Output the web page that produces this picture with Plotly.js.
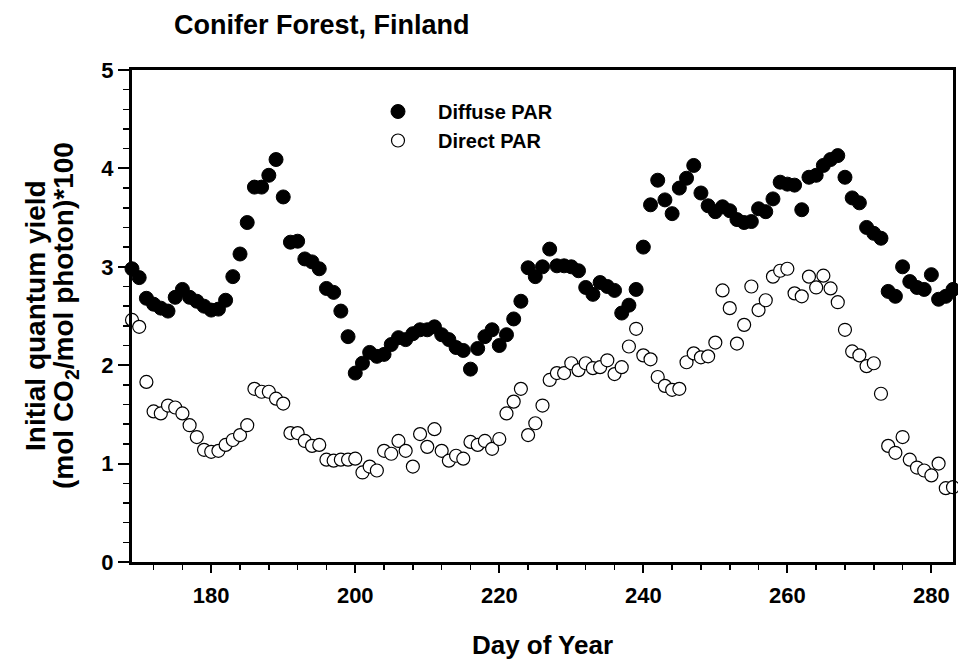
<!DOCTYPE html>
<html>
<head>
<meta charset="utf-8">
<script src="https://cdn.plot.ly/plotly-3.0.1.min.js"></script>
<style>html,body{margin:0;padding:0;background:#fff;}#chart{width:958px;height:663px;}</style>
</head>
<body>
<div id="chart"></div>
<script>
// Day of year (one observation per day)
const days = [169,170,171,172,173,174,175,176,177,178,179,180,181,182,183,184,185,186,187,188,189,190,
  191,192,193,194,195,196,197,198,199,200,201,202,203,204,205,206,207,208,209,210,211,212,213,214,215,
  216,217,218,219,220,221,222,223,224,225,226,227,228,229,230,231,232,233,234,235,236,237,238,239,240,
  241,242,243,244,245,246,247,248,249,250,251,252,253,254,255,256,257,258,259,260,261,262,263,264,265,
  266,267,268,269,270,271,272,273,274,275,276,277,278,279,280,281,282,283];

// Initial quantum yield under diffuse PAR (filled circles)
const diffusePAR = [2.98,2.89,2.68,2.62,2.58,2.55,2.69,2.77,2.69,2.65,2.60,2.56,2.57,2.66,2.90,3.13,3.45,3.81,3.81,3.93,4.09,3.71,
  3.25,3.26,3.08,3.05,2.98,2.78,2.74,2.55,2.29,1.92,2.02,2.13,2.09,2.11,2.21,2.28,2.26,2.32,2.36,2.36,2.39,2.31,2.26,2.18,2.15,
  1.96,2.17,2.29,2.36,2.20,2.31,2.47,2.65,2.99,2.90,3.00,3.18,3.01,3.01,3.00,2.96,2.79,2.72,2.84,2.80,2.76,2.53,2.61,2.77,3.20,
  3.63,3.88,3.68,3.54,3.80,3.90,4.03,3.75,3.62,3.56,3.61,3.57,3.48,3.45,3.46,3.59,3.56,3.69,3.86,3.84,3.83,3.58,3.91,3.93,4.03,
  4.09,4.13,3.91,3.70,3.65,3.40,3.34,3.29,2.75,2.70,3.00,2.85,2.79,2.77,2.92,2.67,2.70,2.77];

// Initial quantum yield under direct PAR (open circles)
const directPAR = [2.46,2.39,1.83,1.53,1.51,1.59,1.57,1.51,1.39,1.27,1.14,1.12,1.13,1.19,1.24,1.29,1.39,1.76,1.73,1.73,1.66,1.61,
  1.31,1.31,1.23,1.18,1.19,1.04,1.03,1.04,1.04,1.05,0.91,0.97,0.93,1.13,1.10,1.23,1.13,0.97,1.30,1.17,1.35,1.13,1.03,1.08,1.05,
  1.22,1.19,1.23,1.15,1.25,1.51,1.63,1.76,1.29,1.41,1.59,1.85,1.92,1.92,2.02,1.95,2.02,1.97,1.98,2.05,1.91,1.98,2.19,2.37,2.10,
  2.06,1.88,1.79,1.75,1.76,2.03,2.12,2.08,2.09,2.23,2.76,2.58,2.22,2.41,2.80,2.56,2.66,2.90,2.96,2.98,2.73,2.70,2.90,2.79,2.91,
  2.78,2.64,2.36,2.14,2.10,1.99,2.02,1.71,1.18,1.11,1.27,1.04,0.96,0.93,0.88,1.00,0.75,0.76];

const seriesNames = ['Diffuse PAR', 'Direct PAR'];
const chartTitle = 'Conifer Forest, Finland';
const xTitle = 'Day of Year';
const yTitleLines = ['Initial quantum yield', '(mol CO<sub>2</sub>/mol photon)*100'];

const FONT = 'Liberation Sans, Arial, Helvetica, sans-serif';

const traces = [
  {
    x: days, y: diffusePAR, name: seriesNames[0], type: 'scatter', mode: 'markers', cliponaxis: false,
    marker: {symbol: 'circle', size: 14, color: '#000000', line: {color: '#000000', width: 1}}
  },
  {
    x: days, y: directPAR, name: seriesNames[1], type: 'scatter', mode: 'markers', cliponaxis: false,
    marker: {symbol: 'circle', size: 13, color: '#ffffff', line: {color: '#000000', width: 1.2}}
  }
];

const layout = {
  width: 958, height: 663,
  paper_bgcolor: '#ffffff', plot_bgcolor: '#ffffff',
  margin: {l: 132, r: 5, t: 70, b: 101, pad: 0},
  font: {family: FONT, color: '#000000'},
  showlegend: true,
  title: {
    text: chartTitle, font: {family: FONT, size: 27, weight: 'bold', color: '#000'},
    xref: 'container', yref: 'container', x: 174/958, xanchor: 'left', y: 1 - 25/663, yanchor: 'middle'
  },
  xaxis: {
    range: [169, 283], tick0: 0, dtick: 20, ticks: 'outside', ticklen: 8, tickwidth: 2, tickcolor: '#000',
    showline: true, linewidth: 3, linecolor: '#000', mirror: true, showgrid: false, zeroline: false,
    ticklabelstandoff: 4,
    tickfont: {family: FONT, size: 22, weight: 'bold', color: '#000'},
    minor: {dtick: 4, tick0: 0, ticks: 'outside', ticklen: 5, tickwidth: 1.5, tickcolor: '#000', showgrid: false},
    title: {text: xTitle, font: {family: FONT, size: 26, weight: 'bold', color: '#000'}, standoff: 29}
  },
  yaxis: {
    range: [0, 5], tick0: 0, dtick: 1, ticks: 'outside', ticklen: 11, tickwidth: 2, tickcolor: '#000',
    showline: true, linewidth: 3, linecolor: '#000', mirror: true, showgrid: false, zeroline: false,
    tickfont: {family: FONT, size: 22, weight: 'bold', color: '#000'},
    minor: {dtick: 0.2, tick0: 0, ticks: 'outside', ticklen: 6, tickwidth: 1.5, tickcolor: '#000', showgrid: false}
  },
  legend: {
    x: (358 - 132) / 821, xanchor: 'left', y: (562 - 92) / 492, yanchor: 'top',
    bgcolor: 'rgba(0,0,0,0)', borderwidth: 0, itemwidth: 70,
    font: {family: FONT, size: 20, weight: 'bold', color: '#000'}
  },
  annotations: [
    {
      text: yTitleLines[0], xref: 'paper', yref: 'paper',
      x: -(132 - 35) / 821, y: 0.5, xanchor: 'center', yanchor: 'middle', textangle: -90, showarrow: false,
      font: {family: FONT, size: 28, weight: 'bold', color: '#000'}
    },
    {
      text: yTitleLines[1], xref: 'paper', yref: 'paper',
      x: -(132 - 65) / 821, y: 0.5, xanchor: 'center', yanchor: 'middle', textangle: -90, showarrow: false,
      font: {family: FONT, size: 28, weight: 'bold', color: '#000'}
    }
  ]
};

Plotly.newPlot('chart', traces, layout, {displayModeBar: false, staticPlot: true});
</script>
</body>
</html>
